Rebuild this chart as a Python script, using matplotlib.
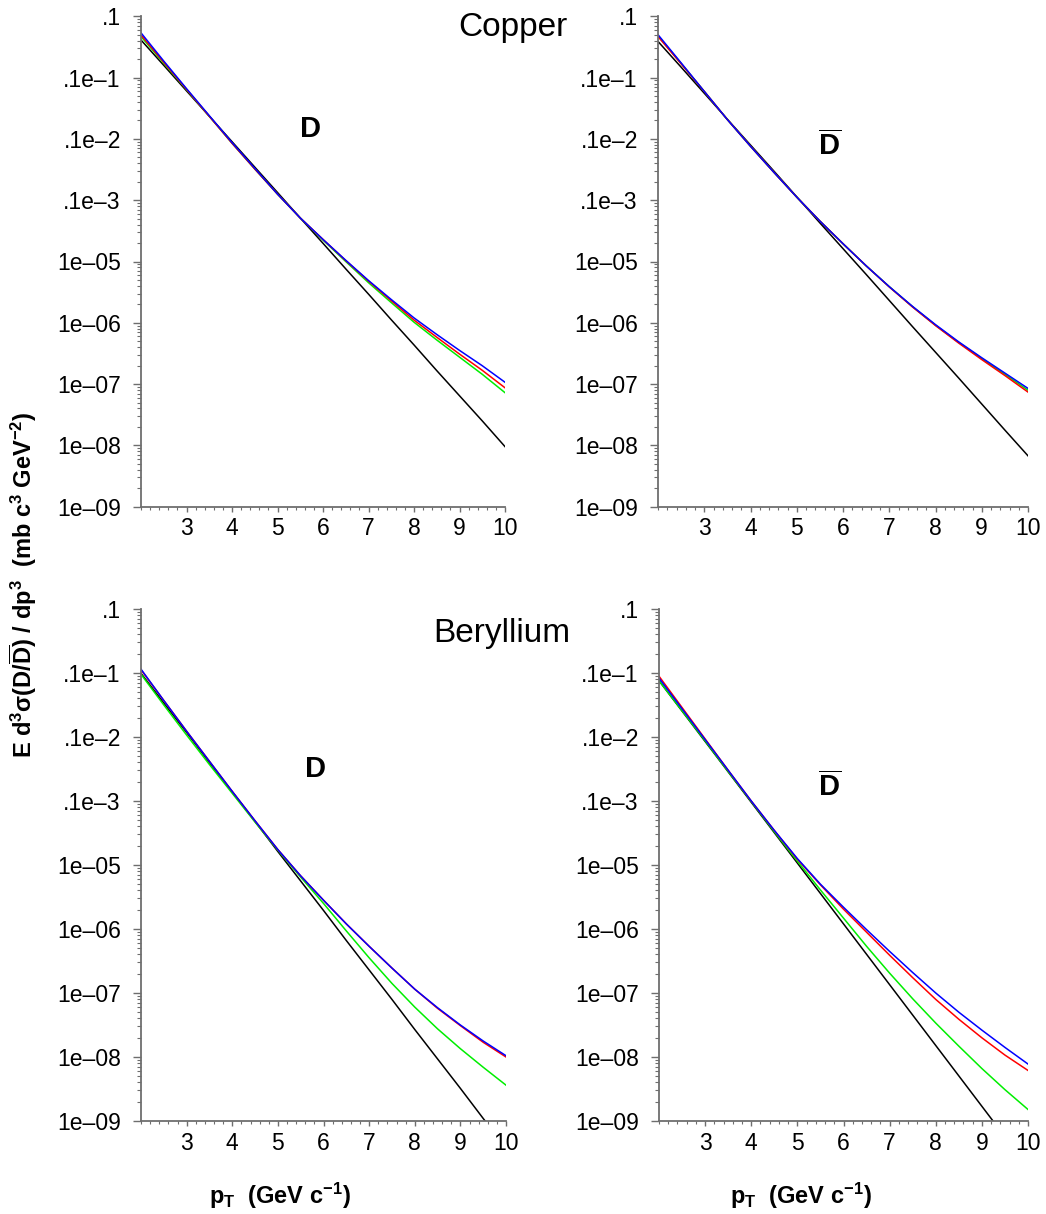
import numpy as np
import matplotlib
matplotlib.use("Agg")
import matplotlib.pyplot as plt
from matplotlib.ticker import FixedLocator, MultipleLocator, LogLocator, NullFormatter

plt.rcParams["font.family"] = ["Liberation Sans", "DejaVu Sans"]
plt.rcParams["mathtext.fontset"] = "custom"
plt.rcParams["mathtext.rm"] = "Liberation Sans"
plt.rcParams["mathtext.bf"] = "Liberation Sans:bold"
plt.rcParams["mathtext.it"] = "Liberation Sans:italic"

# pT grid (GeV/c) at which the curves were read
pt = [2.0, 2.5, 3.0, 3.5, 4.0, 4.5, 5.0, 5.5, 6.0, 6.5, 7.0, 7.5, 8.0, 8.5, 9.0, 9.5, 10.0]

# log10 of the invariant cross section
# Copper, D
cu_d_black = [-1.387, -1.80, -2.216, -2.63, -3.045, -3.46, -3.874, -4.29, -4.703, -5.12, -5.532, -5.95, -6.361, -6.78, -7.19, -7.60, -8.02]
cu_d_green = [-1.33, -1.765, -2.195, -2.63, -3.07, -3.49, -3.90, -4.29, -4.65, -5.00, -5.345, -5.67, -5.99, -6.28, -6.56, -6.84, -7.14]
cu_d_red = [-1.305, -1.75, -2.19, -2.63, -3.07, -3.49, -3.90, -4.29, -4.64, -4.985, -5.32, -5.64, -5.955, -6.235, -6.51, -6.775, -7.06]
cu_d_blue = [-1.27, -1.73, -2.18, -2.62, -3.06, -3.48, -3.90, -4.29, -4.64, -4.98, -5.31, -5.62, -5.92, -6.19, -6.45, -6.70, -6.97]

# Copper, Dbar
cu_db_black = [-1.41, -1.83, -2.255, -2.68, -3.10, -3.52, -3.945, -4.37, -4.79, -5.21, -5.635, -6.06, -6.48, -6.90, -7.325, -7.75, -8.17]
cu_db_green = [-1.32, -1.77, -2.225, -2.685, -3.12, -3.54, -3.95, -4.34, -4.71, -5.07, -5.41, -5.735, -6.04, -6.32, -6.585, -6.84, -7.10]
cu_db_red = [-1.33, -1.775, -2.225, -2.685, -3.12, -3.54, -3.95, -4.34, -4.71, -5.07, -5.415, -5.74, -6.045, -6.33, -6.60, -6.86, -7.13]
cu_db_blue = [-1.30, -1.76, -2.225, -2.685, -3.12, -3.54, -3.95, -4.34, -4.71, -5.07, -5.41, -5.73, -6.03, -6.31, -6.57, -6.82, -7.07]

# Beryllium, D
be_d_black = [-2.005, -2.47, -2.93, -3.40, -3.86, -4.32, -4.79, -5.25, -5.71, -6.18, -6.64, -7.10, -7.57, -8.03, -8.49, -8.96, -9.42]
be_d_green = [-2.02, -2.50, -2.97, -3.43, -3.88, -4.33, -4.77, -5.19, -5.60, -6.03, -6.45, -6.85, -7.22, -7.56, -7.87, -8.16, -8.44]
be_d_red = [-1.95, -2.43, -2.91, -3.38, -3.85, -4.31, -4.76, -5.17, -5.55, -5.92, -6.27, -6.61, -6.94, -7.24, -7.51, -7.77, -8.00]
be_d_blue = [-1.94, -2.43, -2.91, -3.38, -3.85, -4.31, -4.76, -5.17, -5.55, -5.92, -6.27, -6.61, -6.94, -7.23, -7.50, -7.75, -7.98]

# Beryllium, Dbar
be_db_black = [-2.12, -2.595, -3.07, -3.545, -4.02, -4.495, -4.97, -5.445, -5.92, -6.395, -6.87, -7.345, -7.82, -8.295, -8.77, -9.245, -9.72]
be_db_green = [-2.12, -2.59, -3.06, -3.54, -4.01, -4.48, -4.94, -5.39, -5.83, -6.27, -6.69, -7.09, -7.47, -7.83, -8.18, -8.51, -8.82]
be_db_red = [-2.05, -2.54, -3.03, -3.52, -4.00, -4.46, -4.91, -5.31, -5.69, -6.05, -6.41, -6.76, -7.10, -7.41, -7.70, -7.97, -8.21]
be_db_blue = [-2.08, -2.56, -3.04, -3.52, -4.00, -4.46, -4.90, -5.30, -5.66, -6.01, -6.35, -6.68, -7.00, -7.30, -7.58, -7.85, -8.11]

ytick_vals = [1e-9, 1e-8, 1e-7, 1e-6, 1e-5, 1e-4, 1e-3, 1e-2, 1e-1]
ytick_labels = ["1e\u201309", "1e\u201308", "1e\u201307", "1e\u201306", "1e\u201305",
                ".1e\u20133", ".1e\u20132", ".1e\u20131", ".1"]
xtick_vals = [3, 4, 5, 6, 7, 8, 9, 10]

W, H = 1046, 1214
fig = plt.figure(figsize=(W / 100, H / 100), dpi=100)

axis_grey = "#6e6e6e"


def draw_panel(rect, curves):
    ax = fig.add_axes(rect)
    for vals, color in curves:
        ax.plot(pt, 10 ** np.array(vals), color=color, lw=1.1)
    ax.set_yscale("log")
    ax.set_xlim(2, 10)
    ax.set_ylim(1e-9, 1e-1)
    ax.yaxis.set_major_locator(FixedLocator(ytick_vals))
    ax.set_yticklabels(ytick_labels)
    ax.yaxis.set_minor_locator(LogLocator(base=10, subs=np.arange(2, 10), numticks=20))
    ax.yaxis.set_minor_formatter(NullFormatter())
    ax.set_xticks(xtick_vals)
    ax.set_xticklabels([str(v) for v in xtick_vals])
    ax.xaxis.set_minor_locator(MultipleLocator(0.2))
    for side in ["top", "right"]:
        ax.spines[side].set_visible(False)
    for side in ["left", "bottom"]:
        ax.spines[side].set_color(axis_grey)
        ax.spines[side].set_linewidth(1.3)
    ax.tick_params(axis="y", which="major", direction="out", length=5.5, width=1,
                   color=axis_grey, pad=9, labelsize=16.5)
    ax.tick_params(axis="y", which="minor", direction="out", length=3, width=0.8, color=axis_grey)
    ax.tick_params(axis="x", which="major", direction="out", length=3.6, width=1,
                   color=axis_grey, pad=4, labelsize=16.5)
    ax.tick_params(axis="x", which="minor", direction="out", length=2, width=0.8, color=axis_grey)
    return ax


def panel_curves(black, green, red, blue):
    return [(black, "black"), (green, "#00ee00"), (red, "red"), (blue, "blue")]


draw_panel([141 / W, 1 - 506.7 / H, 364 / W, 490.4 / H],
           panel_curves(cu_d_black, cu_d_green, cu_d_red, cu_d_blue))
draw_panel([658 / W, 1 - 506.7 / H, 370 / W, 490.4 / H],
           panel_curves(cu_db_black, cu_db_green, cu_db_red, cu_db_blue))
draw_panel([141 / W, 1 - 1121 / H, 365 / W, 512 / H],
           panel_curves(be_d_black, be_d_green, be_d_red, be_d_blue))
draw_panel([659 / W, 1 - 1121 / H, 369 / W, 512 / H],
           panel_curves(be_db_black, be_db_green, be_db_red, be_db_blue))

# target names
fig.text(458 / W, 1 - 36 / H, "Copper", fontsize=24, ha="left", va="baseline")
fig.text(433 / W, 1 - 641.7 / H, "Beryllium", fontsize=24, ha="left", va="baseline")

# particle labels
fig.text(300 / W, 1 - 136.7 / H, "D", fontsize=21, fontweight="bold", ha="left", va="baseline")
fig.text(817.7 / W, 1 - 155.7 / H, r"$\mathbf{\overline{D}}$", fontsize=21, ha="left", va="baseline")
fig.text(305 / W, 1 - 776.7 / H, "D", fontsize=21, fontweight="bold", ha="left", va="baseline")
fig.text(817.7 / W, 1 - 796.7 / H, r"$\mathbf{\overline{D}}$", fontsize=21, ha="left", va="baseline")

# axis titles
xlab = r"$\mathbf{p_T}$  (GeV c$^{\mathbf{-1}}$)"
fig.text(280 / W, 1 - 1204 / H, xlab, fontsize=17, fontweight="bold", ha="center", va="baseline")
fig.text(801 / W, 1 - 1204 / H, xlab, fontsize=17, fontweight="bold", ha="center", va="baseline")
ylab = (r"E d$^{\mathbf{3}}$σ(D/$\mathbf{\overline{D}}$) / dp$^{\mathbf{3}}$"
        r"  (mb c$^{\mathbf{3}}$ GeV$^{\mathbf{-2}}$)")
fig.text(23 / W, 1 - 585 / H, ylab, fontsize=17, fontweight="bold", rotation=90,
         ha="center", va="center")

fig.savefig("out.png", dpi=100)
